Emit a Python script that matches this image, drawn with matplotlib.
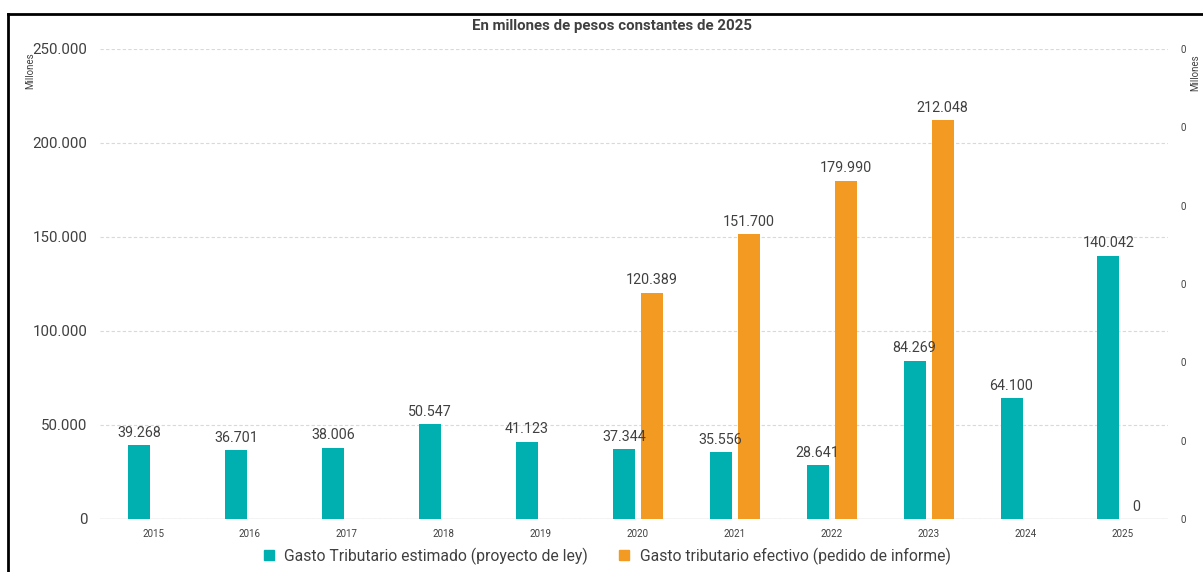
import numpy as np
import matplotlib.pyplot as plt
from matplotlib.lines import Line2D

plt.rcParams['font.family'] = ['Roboto', 'DejaVu Sans']

# datos
anios = ['2015', '2016', '2017', '2018', '2019', '2020', '2021', '2022', '2023', '2024', '2025']
estimado = [39268, 36701, 38006, 50547, 41123, 37344, 35556, 28641, 84269, 64100, 140042]
efectivo = [None, None, None, None, None, 120389, 151700, 179990, 212048, None, 0]

teal = '#00B0B0'
naranja = '#F29A22'
gris_txt = '#404040'


def fmt(v):
    return '{:,}'.format(int(v)).replace(',', '.')


fig = plt.figure(figsize=(12.03, 5.72), dpi=100)
ax = fig.add_axes([100 / 1203, 1 - 519 / 572, 1068 / 1203, (519 - 49) / 572])

x = np.arange(len(anios))
w = 0.227
off = 0.144

ax.bar(x - off, estimado, width=w, color=teal, zorder=3)
for xi, v in zip(x, estimado):
    ax.text(xi - off, v + 2800, fmt(v), ha='center', va='bottom', fontsize=10.3, color=gris_txt, zorder=6)

xe = [xi + off for xi, v in zip(x, efectivo) if v is not None]
ve = [v for v in efectivo if v is not None]
ax.bar(xe, ve, width=w, color=naranja, zorder=3)
for xi, v in zip(xe, ve):
    ax.text(xi, v + 2800, fmt(v), ha='center', va='bottom', fontsize=10.3, color=gris_txt, zorder=6)

ax.set_xlim(-0.547, 10.47)
ax.set_ylim(0, 250000)
ax.set_yticks(np.arange(0, 250001, 50000))
ax.set_yticklabels([fmt(t) for t in np.arange(0, 250001, 50000)], fontsize=10.8, color=gris_txt)
ax.set_xticks(x)
ax.set_xticklabels(anios, fontsize=7, color=gris_txt)
ax.tick_params(axis='both', length=0)
ax.tick_params(axis='y', pad=9)
ax.tick_params(axis='x', pad=7)
for s in ax.spines.values():
    s.set_visible(False)
ax.grid(axis='y', linestyle=(0, (3, 2)), color='#d9d9d9', linewidth=0.8, zorder=0)
ax.axhline(0, color='#d0d0d0', linewidth=1, zorder=2)

ax2 = ax.twinx()
ax2.set_ylim(0, 6)
ax2.set_yticks(range(7))
ax2.set_yticklabels(['0'] * 7, fontsize=7, color=gris_txt)
ax2.tick_params(axis='y', length=0, pad=9)
for s in ax2.spines.values():
    s.set_visible(False)
# las etiquetas por encima de las barras del segundo eje
ax.set_zorder(ax2.get_zorder() + 1)
ax.patch.set_visible(False)

fig.text(30 / 1203, 1 - 71 / 572, 'Millones', rotation=90, fontsize=7, color=gris_txt, ha='center', va='center')
fig.text(1195 / 1203, 1 - 73 / 572, 'Millones', rotation=90, fontsize=7, color=gris_txt, ha='center', va='center')

fig.text(612 / 1203, 1 - 26 / 572, 'En millones de pesos constantes de 2025', fontsize=10.8,
         fontweight='bold', color='#404040', ha='center', va='center')

handles = [Line2D([], [], marker='s', linestyle='none', color=teal, markersize=7),
           Line2D([], [], marker='s', linestyle='none', color=naranja, markersize=7)]
fig.legend(handles, ['Gasto Tributario estimado (proyecto de ley)', 'Gasto tributario efectivo (pedido de informe)'],
           loc='center', bbox_to_anchor=(602 / 1203, 1 - 556 / 572), ncol=2, frameon=False,
           fontsize=11.3, handletextpad=0.0, columnspacing=1.3, labelcolor=gris_txt)

# marco
fig.add_artist(Line2D([8 / 1203, 1], [1 - 14 / 572, 1 - 14 / 572], color='black', linewidth=2))
fig.add_artist(Line2D([8 / 1203, 8 / 1203], [0, 1 - 14 / 572], color='black', linewidth=2))

fig.savefig('out.png', dpi=100)
